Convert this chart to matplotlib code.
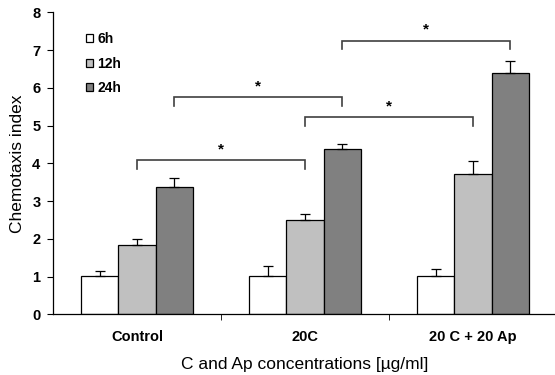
import matplotlib
matplotlib.use("Agg")
import matplotlib.pyplot as plt
import numpy as np

plt.rcParams['font.family'] = ['Liberation Sans', 'DejaVu Sans']

categories = ["Control", "20C", "20 C + 20 Ap"]
series = ["6h", "12h", "24h"]
values = {
    "6h": [1.01, 1.01, 1.01],
    "12h": [1.84, 2.49, 3.72],
    "24h": [3.36, 4.37, 6.40],
}
errors = {
    "6h": [0.15, 0.28, 0.20],
    "12h": [0.16, 0.17, 0.33],
    "24h": [0.26, 0.14, 0.32],
}
colors = {"6h": "#ffffff", "12h": "#c0c0c0", "24h": "#808080"}
# significance brackets: (series, cat_a, cat_b, bracket height, leg bottom)
brackets = [
    ("12h", 0, 1, 4.08, 3.84),
    ("24h", 0, 1, 5.76, 5.52),
    ("12h", 1, 2, 5.23, 4.99),
    ("24h", 1, 2, 7.25, 7.02),
]

fig = plt.figure(figsize=(5.55, 3.75), dpi=100)
ax = fig.add_axes([53/555, 1-314.3/375, 504/555, (314.3-12.3)/375])

w = 0.223
x = np.arange(len(categories))
offsets = {"6h": -w, "12h": 0.0, "24h": w}
handles = []
for s in series:
    b = ax.bar(x + offsets[s], values[s], width=w, color=colors[s],
               edgecolor="black", linewidth=0.9, label=s, zorder=2)
    ax.errorbar(x + offsets[s], values[s], yerr=[np.zeros(3), errors[s]],
                fmt="none", ecolor="black", elinewidth=0.9, capsize=3.5,
                capthick=0.9, zorder=3)
    handles.append(b)

for s, a, bb, h, lo in brackets:
    xa = a + offsets[s]
    xb = bb + offsets[s]
    ax.plot([xa, xa, xb, xb], [lo, h, h, lo], color="#404040", lw=1.2,
            zorder=1, solid_joinstyle="miter")
    ax.text((xa + xb) / 2, h + 0.1, "*", ha="center", va="bottom",
            fontsize=11, fontweight="bold")

ax.set_xlim(-0.5, 2.5)
ax.set_ylim(0, 8)
ax.set_yticks(range(9))
ax.set_xticks(x)
ax.set_xticklabels(categories, fontsize=10.5, fontweight="bold")
ax.set_xticks([0.5, 1.5], minor=True)
ax.tick_params(axis="x", which="major", length=0, pad=11)
ax.tick_params(axis="x", which="minor", length=4, direction="out")
ax.tick_params(axis="y", length=4, direction="out", labelsize=10.5, pad=5)
for lab in ax.get_yticklabels():
    lab.set_fontweight("bold")
for sp in ["top", "right"]:
    ax.spines[sp].set_visible(False)
ax.spines["left"].set_linewidth(0.9)
ax.spines["bottom"].set_linewidth(0.9)

ax.set_ylabel("Chemotaxis index", fontsize=12.5, labelpad=5)
ax.set_xlabel("C and Ap concentrations [µg/ml]", fontsize=12.5, labelpad=10)

leg = ax.legend(handles=handles, labels=series, loc="upper left",
                bbox_to_anchor=(0.04, 0.975), frameon=False,
                handlelength=0.5, handleheight=0.5, handletextpad=0.35,
                labelspacing=0.75, prop={"size": 10, "weight": "bold"})

fig.savefig("out.png", dpi=100)
